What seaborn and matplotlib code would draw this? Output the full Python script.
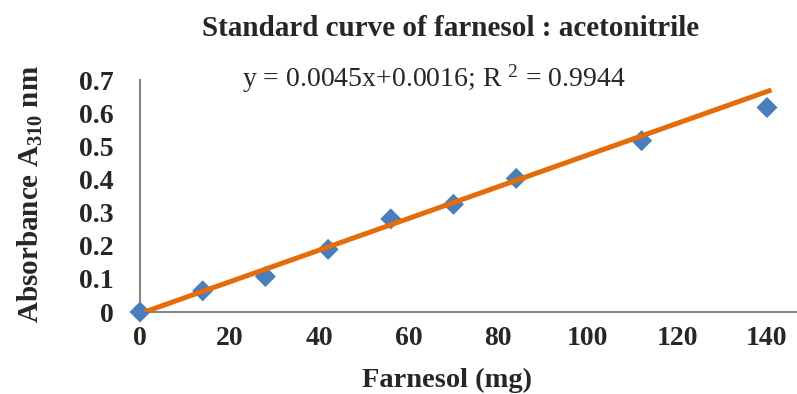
import matplotlib
matplotlib.use("Agg")
import matplotlib.pyplot as plt
import pandas as pd
import seaborn as sns

# Données
farnesol_mg = [0, 14, 28, 42, 56, 70, 84, 112, 140]
absorbance = [0.0, 0.064, 0.107, 0.189, 0.281, 0.325, 0.403, 0.517, 0.617]

# Droite de tendance (extrémités)
trend_x = [1, 141]
trend_y = [0.0, 0.67]

x_ticks = [0, 20, 40, 60, 80, 100, 120, 140]
y_ticks = [0, 0.1, 0.2, 0.3, 0.4, 0.5, 0.6, 0.7]
y_labels = ["0", "0.1", "0.2", "0.3", "0.4", "0.5", "0.6", "0.7"]

equation = "y = 0.0045x+0.0016; R $^{2}$ = 0.9944"

sns.set_theme(style="white")
plt.rcParams["font.family"] = ["Liberation Serif", "DejaVu Serif"]
plt.rcParams["mathtext.fontset"] = "custom"
plt.rcParams["mathtext.rm"] = "Liberation Serif"
plt.rcParams["mathtext.bf"] = "Liberation Serif:bold"
plt.rcParams["mathtext.it"] = "Liberation Serif:italic"

df = pd.DataFrame({"x": farnesol_mg, "y": absorbance})
trend = pd.DataFrame({"x": trend_x, "y": trend_y})

fig = plt.figure(figsize=(7.97, 3.94), dpi=100)
ax = fig.add_axes([140 / 797, 1 - 312 / 394, 657 / 797, 232 / 394])

sns.scatterplot(data=df, x="x", y="y", marker="D", s=115, color="#4A7EBB",
                edgecolor="none", ax=ax, zorder=3, clip_on=False)
sns.lineplot(data=trend, x="x", y="y", color="#E46C0A", linewidth=3.6,
             ax=ax, zorder=4, solid_capstyle="butt")

ax.set_xlim(0, 146.7)
ax.set_ylim(0, 0.7)
ax.set_xticks(x_ticks)
ax.set_yticks(y_ticks)
ax.set_yticklabels(y_labels)
ax.tick_params(axis="x", length=0, pad=10, labelsize=20)
ax.tick_params(axis="y", length=0, pad=19, labelsize=20)
for lab in ax.get_xticklabels() + ax.get_yticklabels():
    lab.set_fontweight("bold")

for side in ["top", "right"]:
    ax.spines[side].set_visible(False)
for side in ["left", "bottom"]:
    ax.spines[side].set_color("#868686")
    ax.spines[side].set_linewidth(1.5)

ax.set_xlabel("")
ax.set_ylabel("")

fig.text(451 / 797, 1 - 28 / 394, "Standard curve of farnesol : acetonitrile",
         ha="center", va="center", fontsize=21, fontweight="bold")
fig.text(447 / 797, 1 - 380 / 394, "Farnesol (mg)", ha="center", va="center",
         fontsize=20.5, fontweight="bold")
fig.text(30 / 797, 1 - 194 / 394, r"Absorbance A$_{\mathbf{310}}$ nm",
         ha="center", va="center", rotation=90, fontsize=21, fontweight="bold")
ax.text((434 - 140) / 657, (312 - 79) / 232, equation, transform=ax.transAxes,
        ha="center", va="center", fontsize=20)

plt.savefig("out.png", dpi=100)
